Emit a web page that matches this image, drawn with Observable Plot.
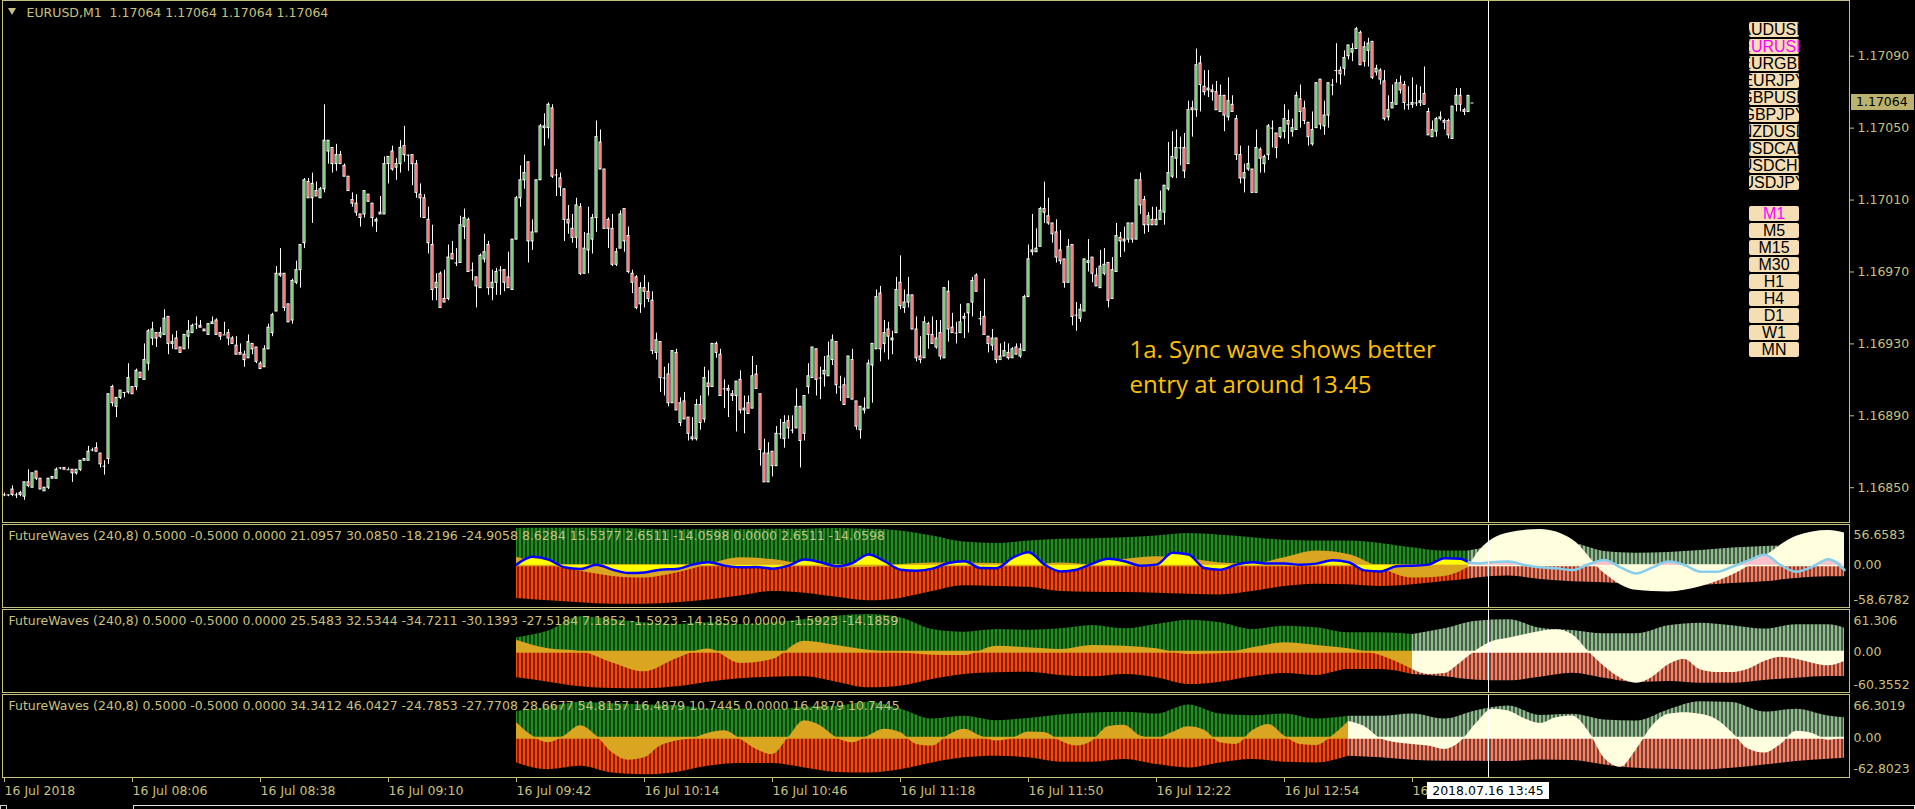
<!DOCTYPE html>
<html><head><meta charset="utf-8">
<script src="https://cdn.jsdelivr.net/npm/d3@7"></script>
<script src="https://cdn.jsdelivr.net/npm/@observablehq/plot@0.6"></script>
<style>
html,body{margin:0;padding:0;background:#000;}
#root{position:relative;width:1915px;height:809px;overflow:hidden;background:#000;font-family:"DejaVu Sans",sans-serif;}
.frame{position:absolute;border:1px solid #C8C07E;box-sizing:border-box;pointer-events:none;z-index:5;}
.btn{position:absolute;background:#F5DEB3;border-radius:2px;overflow:hidden;display:flex;justify-content:center;align-items:center;font-family:"Liberation Sans",Arial,sans-serif;font-size:16px;color:#000;white-space:nowrap;line-height:15px;z-index:6;}
</style></head><body>
<svg width="0" height="0" style="position:absolute">
<defs>
<pattern id="gDark" patternUnits="userSpaceOnUse" x="2.5" y="0" width="4" height="10"><rect x="0" y="0" width="3" height="10" fill="#228B22"/></pattern>
<pattern id="rDark" patternUnits="userSpaceOnUse" x="2.5" y="0" width="4" height="10"><rect x="0" y="0" width="3" height="10" fill="#FF4500"/></pattern>
<pattern id="gPale" patternUnits="userSpaceOnUse" x="2.5" y="0" width="4" height="10"><rect x="0" y="0" width="3" height="10" fill="#8FBC8F"/></pattern>
<pattern id="rPale" patternUnits="userSpaceOnUse" x="2.5" y="0" width="4" height="10"><rect x="0" y="0" width="3" height="10" fill="#FA8064"/></pattern>
</defs></svg>
<div id="root"></div>
<script>
// ---------------- DATA ----------------
const BASE = 1.168, POINT = 0.00001; // candle values are stored in points above 1.16800
const openPts = [
46,46,49,46,46,45,53,50,59,55,48,50,55,55,61,61,60,60,58,60,
65,65,71,72,69,62,66,106,95,100,103,103,106,106,114,110,119,133,136,134,
135,145,130,133,128,127,134,136,141,140,138,135,141,143,136,135,136,133,129,125,
124,122,130,128,119,117,127,136,148,169,169,152,143,164,171,186,220,211,215,211,
216,237,239,230,235,229,223,210,208,202,202,213,208,198,202,202,230,237,228,230,
240,235,235,230,213,211,199,185,161,169,155,155,180,175,175,195,199,171,167,161,
177,185,161,164,171,171,167,160,188,211,221,231,187,192,221,250,250,261,224,222,
216,199,194,189,206,169,182,188,200,242,227,199,194,174,183,205,190,169,167,152,
161,159,154,125,131,111,113,97,125,86,98,89,78,77,96,88,108,106,130,124,
105,105,102,101,110,94,97,94,113,102,69,53,70,62,80,77,87,82,83,95,
80,106,111,127,111,113,112,121,131,106,107,100,121,98,82,93,94,118,127,158,
130,138,132,136,164,150,153,157,138,123,122,141,135,128,136,122,159,139,136,136,
144,147,153,168,144,145,134,129,133,121,123,125,122,128,123,126,156,182,181,184,
205,201,197,192,182,177,164,185,146,144,148,175,178,168,161,169,175,155,170,189,
187,188,197,188,221,210,196,199,196,199,203,216,223,233,239,239,230,261,260,286,
273,271,271,270,259,268,256,263,255,235,222,227,227,214,238,230,235,250,247,245,
248,254,248,249,266,261,253,241,250,277,251,257,274,282,282,283,290,292,294,303,
287,293,298,281,282,276,256,261,263,275,274,263,263,264,264,269,259,245,248,255,
254,254,244,263,268,260,259,264];
const highPts = [
47,46,51,47,48,53,60,58,59,55,50,55,56,61,61,61,61,60,60,65,
66,73,72,75,69,65,102,107,100,104,103,119,106,116,114,130,138,142,136,139,
149,145,135,137,128,135,143,141,145,143,138,141,145,144,136,142,138,134,134,130,
126,135,130,128,120,129,141,147,173,183,169,152,166,176,185,222,222,225,220,217,
263,243,239,241,237,230,223,214,213,202,215,213,208,200,212,234,234,240,233,243,
251,235,235,232,219,213,206,196,169,170,171,185,187,183,201,205,200,175,167,180,
191,187,171,172,173,171,181,188,212,229,235,231,199,221,252,258,264,263,227,225,
216,207,202,211,208,192,206,202,254,249,227,200,202,183,204,205,195,171,168,164,
168,164,159,136,131,117,119,126,127,100,103,89,89,99,101,117,115,130,131,127,
110,107,104,109,115,101,101,123,118,102,77,75,70,84,88,90,90,90,105,95,
101,119,128,127,117,123,131,135,131,112,111,123,127,98,95,100,121,130,160,162,
143,142,137,167,179,160,167,157,145,134,145,142,145,143,143,161,165,147,142,152,
147,152,167,169,148,166,134,138,133,130,131,130,128,130,130,157,185,202,194,206,
220,211,197,199,193,177,188,185,153,152,177,188,178,172,182,183,175,178,197,192,
195,197,197,221,225,212,203,206,206,215,218,242,248,249,245,247,265,265,294,290,
282,282,274,276,274,268,278,268,257,240,230,240,227,249,239,235,252,254,247,250,
263,260,255,270,274,265,253,259,275,277,265,275,277,297,284,293,296,297,306,304,
298,300,298,285,283,282,268,274,277,279,276,273,278,274,273,284,261,254,256,259,
255,255,262,272,272,261,268,264];
const lowPts = [
45,45,45,44,45,43,50,50,54,49,48,49,55,55,60,60,60,53,57,59,
65,65,70,70,61,57,63,95,89,99,100,102,102,104,111,110,115,129,128,133,
135,124,127,127,125,127,127,136,138,139,137,135,141,135,132,135,129,130,124,124,
117,122,124,119,116,117,127,134,148,167,148,142,141,163,161,183,211,197,212,211,
214,230,225,226,230,223,215,206,201,195,200,209,195,192,202,202,219,226,221,225,
231,226,218,211,200,200,180,154,154,150,153,154,177,173,175,188,170,165,150,161,
175,157,154,157,157,159,161,160,188,206,216,175,182,192,221,240,244,222,212,212,
187,191,186,183,168,169,169,180,192,227,194,183,173,173,183,181,169,158,149,147,
150,153,124,121,103,101,95,97,93,84,88,76,76,76,82,86,101,106,122,101,
94,89,98,81,91,80,91,94,105,62,53,53,56,62,77,72,77,80,83,61,
76,102,111,101,99,106,112,118,102,98,96,100,99,82,77,91,94,97,127,120,
125,121,124,136,149,147,150,138,120,119,122,127,130,127,121,122,131,136,130,136,
133,136,145,159,140,135,125,126,119,121,123,121,122,124,122,126,156,179,181,184,
197,196,186,175,174,161,164,140,137,142,148,170,164,162,161,168,150,155,170,178,
181,186,186,188,202,191,192,196,196,199,196,215,222,222,229,222,230,245,256,259,
268,267,265,260,259,248,254,259,232,219,214,226,214,214,225,225,232,239,233,244,
244,241,245,249,250,252,240,240,250,249,246,250,268,275,274,279,288,287,294,285,
284,284,277,279,274,254,254,261,263,269,260,260,261,262,262,263,246,245,245,254,
249,244,244,259,259,257,259,264];
const closePts = [
46,46,46,46,47,53,51,58,55,49,50,55,56,60,61,60,60,58,60,65,
66,70,71,70,63,62,102,97,100,104,103,111,102,115,111,121,137,138,133,136,
144,130,131,127,125,135,137,140,141,139,137,141,142,135,134,135,133,130,124,124,
121,131,127,120,116,127,139,146,169,168,150,142,165,171,185,221,211,219,212,216,
243,243,230,235,230,223,215,208,203,200,215,209,200,199,203,230,234,227,230,239,
235,235,230,214,211,200,186,160,164,150,153,178,177,175,196,200,170,171,162,179,
181,161,164,170,171,164,161,188,211,221,225,187,192,221,251,251,263,223,224,217,
199,197,189,207,169,183,191,200,245,227,194,194,174,181,202,187,170,164,150,161,
159,155,126,132,111,111,97,126,93,97,88,80,77,96,86,111,106,130,125,101,
105,104,101,109,93,93,91,112,105,71,53,69,62,80,80,86,83,82,95,76,
101,112,128,110,111,115,123,132,107,106,96,123,99,84,95,94,119,130,156,127,
136,134,133,160,151,153,157,138,122,121,142,135,130,133,123,161,138,136,136,142,
145,152,165,159,144,135,130,133,121,123,126,122,127,124,127,156,177,181,183,205,
203,197,191,178,176,164,184,145,146,149,177,176,169,162,173,174,154,171,190,187,
188,197,188,221,207,196,201,196,199,204,218,225,234,239,239,226,260,260,285,274,
270,272,270,260,268,257,265,259,235,222,225,230,214,239,233,234,251,250,239,250,
255,252,250,268,259,254,245,249,275,252,257,275,274,282,280,289,296,294,305,285,
295,297,278,283,277,255,260,264,275,271,264,263,264,264,265,263,246,249,255,256,
253,246,262,268,263,259,268,264];

const priceTicks = [1.16850, 1.16890, 1.16930, 1.16970, 1.17010, 1.17050, 1.17090];
const lastPrice = 1.17064;
const timeTickIndex = [0, 32, 64, 96, 128, 160, 192, 224, 256, 288, 320, 352];
const timeTickLabels = ["16 Jul 2018","16 Jul 08:06","16 Jul 08:38","16 Jul 09:10","16 Jul 09:42","16 Jul 10:14","16 Jul 10:46","16 Jul 11:18","16 Jul 11:50","16 Jul 12:22","16 Jul 12:54","16 Jul 13:26"];
const crossIndex = 371;
const crossLabel = "2018.07.16 13:45";
const headerText = "EURUSD,M1\u00a0\u00a01.17064 1.17064 1.17064 1.17064";
const noteLines = ["1a. Sync wave shows better", "entry at around 13.45"];
const symbolButtons = ["AUDUSD","EURUSD","EURGBP","EURJPY","GBPUSD","GBPJPY","NZDUSD","USDCAD","USDCHF","USDJPY"];
const activeSymbol = "EURUSD";
const tfButtons = ["M1","M5","M15","M30","H1","H4","D1","W1","MN"];
const activeTf = "M1";

// Panel 1
const p1Title = "FutureWaves (240,8) 0.5000 -0.5000 0.0000 21.0957 30.0850 -18.2196 -24.9058 8.6284 15.5377 2.6511 -14.0598 0.0000 2.6511 -14.0598";
const p1Scale = [-58.6782, 56.6583];
const p1Split = 366;
const p1K = [128,136,144,152,160,168,176,184,192,200,208,216,224,232,240,248,256,264,272,280,288,296,304,312,320,328,336,344,352,360,366,368,376,384,392,400,408,416,424,432,440,448,456,460];
const p1Upper = [51.1,51.5,51.5,51.0,50.1,49.2,49.2,49.2,50.1,50.1,51.0,50.1,47.8,40.7,32.3,30.4,33.7,36.1,37.0,38.4,40.7,44.0,41.7,38.4,34.7,33.7,33.7,30.4,24.3,19.7,19.7,22.0,26.2,28.6,30.0,19.2,16.8,17.8,20.6,23.9,26.2,27.2,28.6,28.6];
const p1Lower = [-46.0,-49.3,-52.1,-54.0,-54.0,-52.1,-48.3,-42.7,-36.6,-38.9,-44.6,-49.3,-46.0,-36.6,-28.6,-29.6,-30.5,-36.6,-37.5,-38.0,-38.9,-40.4,-41.3,-36.6,-29.6,-26.3,-27.2,-29.6,-27.2,-22.5,-19.3,-17.8,-15.0,-19.7,-23.0,-24.4,-26.3,-27.7,-27.7,-25.4,-23.0,-18.3,-16.0,-16.0];
const p1Wave = [11.2,0,-8.4,-15.5,-17.8,-10.8,0.9,10.3,7.9,0.9,-3.8,-2.8,0.9,3.2,3.2,2.3,0,3.3,0.9,7.9,11.7,8.9,3.3,1.9,10.3,19.7,15.0,-3.8,-17.8,-15.5,-3.0,15,45.0,49.7,35.6,-11.3,-34.7,-37.1,-30.0,-13.6,12.2,40.3,48.2,45.0];
const p1LineK = [128,132,136,140,144,148,152,156,160,164,168,172,176,180,184,188,192,196,200,204,208,212,216,220,224,228,232,236,240,244,248,252,256,260,264,268,272,276,280,284,288,292,296,300,304,308,312,316,320,324,328,332,336,340,344,348,352,356,360,364,366,368,372,376,380,384,388,392,396,400,404,408,412,416,420,424,428,432,436,440,444,448,452,456,460];
const p1Line = [0.9,11.7,7.9,-2.8,-5.2,0.9,-6.1,-10.8,-9.9,-6.1,-5.2,0.9,4.2,-0.5,-2.8,-2.4,-4.7,-0.5,7.9,4.2,-1.4,3.2,15.0,5.6,-6.1,-7.5,-4.7,3.2,5.6,-3.8,-4.0,10.3,18.2,0.9,-8.5,-6.1,2.3,8.9,5.6,-0.5,0.9,17.3,15.0,-3.8,-6.1,0.9,4.2,2.3,2.3,0.9,2.3,7.0,4.2,-7.1,-8.5,-1.4,-0.5,0.9,9.8,8.9,4.2,2.8,4.2,5.1,0.4,-2.9,-4.3,-6.6,1.4,7.5,-2.9,-11.3,-2.9,5.1,0.4,-9.0,-9.0,-1.9,6.5,14.5,0.4,-9.0,-1.9,8.4,-6.6];

// Panel 2
const p2Title = "FutureWaves (240,8) 0.5000 -0.5000 0.0000 25.5483 32.5344 -34.7211 -30.1393 -27.5184 7.1852 -1.5923 -14.1859 0.0000 -1.5923 -14.1859";
const p2Scale = [-60.3552, 61.306];
const p2Split = 352;
const p2EnvK = [128,136,144,152,160,168,176,184,192,200,208,216,224,232,240,248,256,264,272,280,288,296,304,312,320,328,336,344,352,360,368,376,384,392,400,408,416,424,432,440,448,456,460];
const p2Upper = [20.3,30.0,50.7,46.9,42.0,39.6,42.0,39.6,42.0,46.9,51.7,54.1,49.3,32.4,28.5,32.4,31.4,33.3,38.2,33.3,39.6,45.9,42.0,32.4,37.2,34.8,27.5,27.5,25.1,33.3,44.4,46.4,34.3,30.9,26.1,26.1,37.7,41.5,37.7,32.9,39.1,39.1,34.3];
const p2Lower = [-37.7,-43.9,-50.7,-53.1,-53.6,-50.7,-43.9,-39.1,-36.7,-36.2,-43.9,-52.2,-49.8,-40.1,-32.9,-30.4,-29.5,-34.3,-36.2,-32.9,-37.7,-47.3,-43.9,-36.2,-31.4,-34.3,-25.6,-25.6,-32.9,-36.2,-41.1,-42.0,-36.7,-30.9,-38.2,-44.4,-43.0,-45.4,-45.4,-41.5,-38.2,-35.7,-35.7];
const p2WaveK = [128,136,144,152,160,168,176,184,192,200,208,216,224,232,240,248,256,264,272,280,288,296,304,312,320,328,336,344,352,356,360,364,368,372,376,380,384,388,392,396,400,404,408,412,416,420,424,428,432,436,440,444,448,452,456,460];
const p2Wave = [16.9,4.3,0.5,-16.0,-29.0,-10.0,4.0,-16.9,-11.1,15.5,9.2,2.4,-1.5,-4.8,-5.3,8.2,5.8,3.4,9.2,8.2,4.3,-3.9,-2.9,5.8,13.0,9.2,4.3,-5.3,-25.6,-32.9,-31.4,-16.0,2.0,15.0,19.8,24.6,29.5,31.9,24.6,0.5,-21.3,-38.2,-45.4,-36.7,-18.8,-10.6,-26.1,-29.9,-29.9,-25.1,-14.0,-7.7,-10.6,-16.4,-20.3,-14.0];

// Panel 3
const p3Title = "FutureWaves (240,8) 0.5000 -0.5000 0.0000 34.3412 46.0427 -24.7853 -27.7708 28.6677 54.8157 16.4879 10.7445 0.0000 16.4879 10.7445";
const p3Scale = [-62.8023, 66.3019];
const p3Split = 336;
const p3EnvK = [128,136,144,152,160,168,176,184,192,200,208,216,224,232,240,248,256,264,272,280,288,296,304,312,320,328,336,344,352,360,368,376,384,392,400,408,416,424,432,440,448,456,460];
const p3Upper = [40.0,46.7,54.5,51.9,50.3,49.3,44.1,44.1,43.0,46.7,48.2,54.5,44.1,28.6,32.7,25.9,29.6,34.8,37.9,38.9,36.3,50.3,36.3,33.7,36.3,28.6,32.7,32.7,36.3,28.6,41.5,48.8,34.2,35.8,27.0,25.4,42.5,55.0,54.0,39.4,43.6,33.2,30.6];
const p3Lower = [-38.8,-49.2,-44.0,-54.4,-57.0,-53.4,-44.0,-39.9,-39.9,-46.6,-53.4,-54.4,-49.2,-38.8,-31.1,-28.5,-31.1,-37.8,-37.8,-33.7,-41.4,-46.6,-38.8,-33.7,-37.8,-38.8,-28.5,-31.1,-34.7,-36.3,-36.3,-36.8,-34.2,-35.2,-42.0,-47.1,-48.7,-49.7,-47.1,-42.0,-36.8,-33.2,-31.6];
const p3WaveK = [128,132,136,140,144,148,152,156,160,164,168,172,176,180,184,188,192,196,200,204,208,212,216,220,224,228,232,236,240,244,248,252,256,260,264,268,272,276,280,284,288,292,296,300,304,308,312,316,320,324,328,332,336,340,344,348,352,356,360,364,368,372,376,380,384,388,392,396,400,404,408,412,416,420,424,428,432,436,440,444,448,452,456,460];
const p3Wave = [23.4,2.6,-7.8,2.6,18.2,2.6,-23.3,-34.7,-31.1,-12.9,-5.2,-1.5,6.8,10.4,-2.6,-18.1,-25.9,0.0,25.9,18.2,0.0,-7.8,2.6,13.0,7.8,-10.4,-13.0,3.6,13.0,2.6,-5.2,-1.5,8.8,7.8,-5.2,-13.0,-5.2,17.1,19.2,2.6,-1.5,7.8,16.6,11.4,-7.8,-10.4,10.4,20.3,2.6,-10.4,-11.9,2.6,24.9,17.1,-1.5,-7.8,-10.4,-13.0,-18.1,-6.7,22.0,43.6,41.0,29.1,21.8,30.6,33.2,9.9,-31.6,-45.6,-18.6,17.7,35.8,38.4,35.8,28.0,7.3,-17.6,-23.8,-10.9,9.9,6.3,-4.1,0.5];

// ---------------- STYLE / LAYOUT ----------------
const KH = "#C8C07E";
const W = 1915, PLOT_R = 1849;
const xDomain = [-1, 461.25];
const root = document.getElementById("root");
function place(el, left, top, z) {
  el.style.position = "absolute"; el.style.left = left + "px"; el.style.top = top + "px";
  if (z != null) el.style.zIndex = z;
  root.appendChild(el); return el;
}
function div(css, text) { const d = document.createElement("div"); d.style.cssText = css; if (text != null) d.textContent = text; return d; }

// ---------------- MAIN CHART ----------------
const candles = openPts.map((o, i) => {
  const c = closePts[i];
  return {k: i, open: BASE + o * POINT, close: BASE + c * POINT,
          high: BASE + Math.max(highPts[i], o, c) * POINT, low: BASE + Math.min(lowPts[i], o, c) * POINT};
});
const upC = candles.filter(d => d.close > d.open);
const dnC = candles.filter(d => d.close < d.open);
const flatC = candles.filter(d => d.close === d.open);

const main = Plot.plot({
  width: W, height: 523, marginLeft: 0, marginRight: W - PLOT_R, marginTop: 0, marginBottom: 0,
  style: {background: "transparent", color: KH, fontFamily: "DejaVu Sans", fontSize: "12.5px"},
  x: {domain: xDomain, axis: null},
  y: {domain: [1.168301, 1.171210], axis: "right", ticks: priceTicks, tickFormat: d => d.toFixed(5), tickSize: 4, tickPadding: 4, label: null},
  marks: [
    Plot.ruleX(candles, {x: "k", y1: "low", y2: "high", stroke: "#ffffff"}),
    Plot.rect(upC, {x1: d => d.k - 0.25, x2: d => d.k + 0.25, y1: "open", y2: "close", fill: "#00A000", stroke: "#ffffff", strokeWidth: 1}),
    Plot.rect(dnC, {x1: d => d.k - 0.25, x2: d => d.k + 0.25, y1: "open", y2: "close", fill: "#FF0000", stroke: "#ffffff", strokeWidth: 1}),
    Plot.ruleY(flatC, {y: "close", x1: d => d.k - 0.375, x2: d => d.k + 0.375, stroke: "#ffffff"}),
    Plot.text([headerText], {frameAnchor: "top-left", dx: 26, dy: 8, lineAnchor: "top", textAnchor: "start", fill: KH, fontSize: 12.5, fontFamily: "DejaVu Sans"}),
    Plot.text([noteLines[0]], {frameAnchor: "top-left", dx: 1129, dy: 340, lineAnchor: "top", textAnchor: "start", fill: "#FFC000", fontSize: 24, fontFamily: "Open Sans"}),
    Plot.text([noteLines[1]], {frameAnchor: "top-left", dx: 1129, dy: 375, lineAnchor: "top", textAnchor: "start", fill: "#FFC000", fontSize: 24, fontFamily: "Open Sans"}),
    Plot.ruleX([crossIndex], {stroke: "#ffffff"})
  ]
});
place(main, 0, 0, 1);

// current price tag
const yMain = main.scale("y");
place(div(`width:63px;height:16px;background:#BAB26E;color:#000;font-family:'DejaVu Sans';font-size:12.5px;line-height:16px;padding-left:5px;box-sizing:border-box;`, lastPrice.toFixed(5)),
      1851, Math.round(yMain.apply(lastPrice) - 8), 7);

// header triangle
place(div(`width:0;height:0;border-left:4.5px solid transparent;border-right:4.5px solid transparent;border-top:7px solid ${KH};`), 8, 8, 7);

// ---------------- INDICATOR PANELS ----------------
function panel(cfg) {
  const env = cfg.envK.map((k, i) => ({k, up: cfg.upper[i], lo: cfg.lower[i]}));
  const envPast = env.filter(d => d.k <= cfg.split), envFut = env.filter(d => d.k >= cfg.split);
  const wv = cfg.waveK.map((k, i) => ({k, v: cfg.wave[i]}));
  const wvPast = wv.filter(d => d.k <= cfg.split), wvFut = wv.filter(d => d.k >= cfg.split);
  const curve = "monotone-x";
  const marks = [
    Plot.areaY(envFut, {x: "k", y1: 0, y2: "up", fill: "url(#gPale)", curve}),
    Plot.areaY(envFut, {x: "k", y1: 0, y2: "lo", fill: "url(#rPale)", curve}),
    Plot.areaY(envPast, {x: "k", y1: 0, y2: "up", fill: "url(#gDark)", curve}),
    Plot.areaY(envPast, {x: "k", y1: 0, y2: "lo", fill: "url(#rDark)", curve}),
    Plot.ruleY([0], {x1: cfg.envK[0], x2: cfg.split, stroke: "#DAA520", strokeWidth: 2}),
    Plot.ruleY([0], {x1: cfg.split, x2: cfg.envK[cfg.envK.length - 1], stroke: "#FFFFE0", strokeWidth: 2}),
    Plot.areaY(wvPast, {x: "k", y1: 0, y2: "v", fill: "#DAA520", curve}),
    Plot.areaY(wvFut, {x: "k", y1: 0, y2: "v", fill: "#FFFFE0", curve})
  ];
  if (cfg.lineK) {
    const ln = cfg.lineK.map((k, i) => ({k, v: cfg.line[i]}));
    const lnPast = ln.filter(d => d.k <= cfg.split), lnFut = ln.filter(d => d.k >= cfg.split);
    marks.push(
      Plot.areaY(lnPast, {x: "k", y1: 0, y2: "v", fill: "#FFFF00", curve}),
      Plot.areaY(lnFut, {x: "k", y1: 0, y2: d => Math.max(0, d.v), fill: "#FFC0CB", curve}),
      Plot.line(lnPast, {x: "k", y: "v", stroke: "#0000FF", strokeWidth: 2.5, curve}),
      Plot.line(lnFut, {x: "k", y: "v", stroke: "#87CEEB", strokeWidth: 2.5, curve})
    );
  }
  marks.push(
    Plot.text([cfg.title], {frameAnchor: "top-left", dx: 8, dy: 7, lineAnchor: "top", textAnchor: "start", fill: KH, fontSize: 12.5, fontFamily: "DejaVu Sans"}),
    Plot.text([String(cfg.scale[1])], {frameAnchor: "top-right", dx: 4, dy: cfg.topDy, lineAnchor: "middle", textAnchor: "start", fill: KH, fontSize: 12.5}),
    Plot.text([0], {y: d => d, frameAnchor: "right", text: () => "0.00", dx: 4, lineAnchor: "middle", textAnchor: "start", fill: KH, fontSize: 12.5}),
    Plot.text([String(cfg.scale[0])], {frameAnchor: "bottom-right", dx: 4, dy: cfg.botDy, lineAnchor: "middle", textAnchor: "start", fill: KH, fontSize: 12.5}),
    Plot.ruleX([crossIndex], {stroke: "#ffffff"})
  );
  const svg = Plot.plot({
    width: W, height: cfg.height, marginLeft: 0, marginRight: W - PLOT_R, marginTop: 0, marginBottom: 0,
    style: {background: "transparent", color: KH, fontFamily: "DejaVu Sans", fontSize: "12.5px"},
    x: {domain: xDomain, axis: null},
    y: {domain: cfg.scale, axis: null},
    marks
  });
  place(svg, 0, cfg.top, 1);
}
panel({title: p1Title, scale: p1Scale, split: p1Split, envK: p1K, upper: p1Upper, lower: p1Lower, waveK: p1K, wave: p1Wave, lineK: p1LineK, line: p1Line, top: 524, height: 83, topDy: 10, botDy: -8});
panel({title: p2Title, scale: p2Scale, split: p2Split, envK: p2EnvK, upper: p2Upper, lower: p2Lower, waveK: p2WaveK, wave: p2Wave, top: 609, height: 84, topDy: 11, botDy: -9});
panel({title: p3Title, scale: p3Scale, split: p3Split, envK: p3EnvK, upper: p3Upper, lower: p3Lower, waveK: p3WaveK, wave: p3Wave, top: 694, height: 84, topDy: 11, botDy: -10});

// ---------------- TIME AXIS ----------------
const timeTicks = timeTickIndex.map((k, i) => ({k, label: timeTickLabels[i]}));
const xAxis = Plot.plot({
  width: W, height: 24, marginLeft: 0, marginRight: W - PLOT_R, marginTop: 0, marginBottom: 0,
  style: {background: "transparent", color: KH, fontFamily: "DejaVu Sans", fontSize: "12.5px"},
  x: {domain: xDomain, axis: null},
  y: {domain: [0, 24], range: [0, 24], axis: null},
  marks: [
    Plot.ruleX(timeTicks, {x: "k", y1: 0, y2: 4, stroke: KH}),
    Plot.text(timeTicks, {x: "k", y: 12, text: "label", textAnchor: "start", lineAnchor: "middle", fill: KH, fontSize: 12.5, fontFamily: "DejaVu Sans"})
  ]
});
place(xAxis, 0, 778, 1);
const xs = xAxis.scale("x");
place(div(`width:122px;height:17px;background:#fff;color:#000;font-family:'DejaVu Sans';font-size:12.5px;line-height:17px;text-align:center;`, crossLabel),
      Math.round(xs.apply(crossIndex) - 61), 782, 8);

// ---------------- FRAMES ----------------
[[0, 523], [524, 84], [609, 84], [694, 84]].forEach(([t, h]) => {
  const f = div(`width:1848px;height:${h}px;`); f.className = "frame"; place(f, 2, t, 5);
});
// bottom tab strip
place(div(`width:7px;height:4px;border:1px solid #d0d0d0;border-bottom:none;box-sizing:border-box;`), 0, 805, 5);
place(div(`width:1782px;height:4px;border:1px solid #e0e0e0;border-bottom:none;box-sizing:border-box;`), 133, 805, 5);

// ---------------- BUTTONS ----------------
symbolButtons.forEach((s, i) => {
  const b = div(`width:50px;height:15px;color:${s === activeSymbol ? "#FF00FF" : "#000"};`);
  const span = document.createElement("span"); span.textContent = s; span.style.flex = "none"; b.appendChild(span);
  b.className = "btn"; place(b, 1749, 22 + 17 * i, 6);
});
tfButtons.forEach((s, i) => {
  const b = div(`width:50px;height:15px;color:${s === activeTf ? "#FF00FF" : "#000"};`);
  const span = document.createElement("span"); span.textContent = s; span.style.flex = "none"; b.appendChild(span);
  b.className = "btn"; place(b, 1749, 206 + 17 * i, 6);
});
</script>
</body></html>
